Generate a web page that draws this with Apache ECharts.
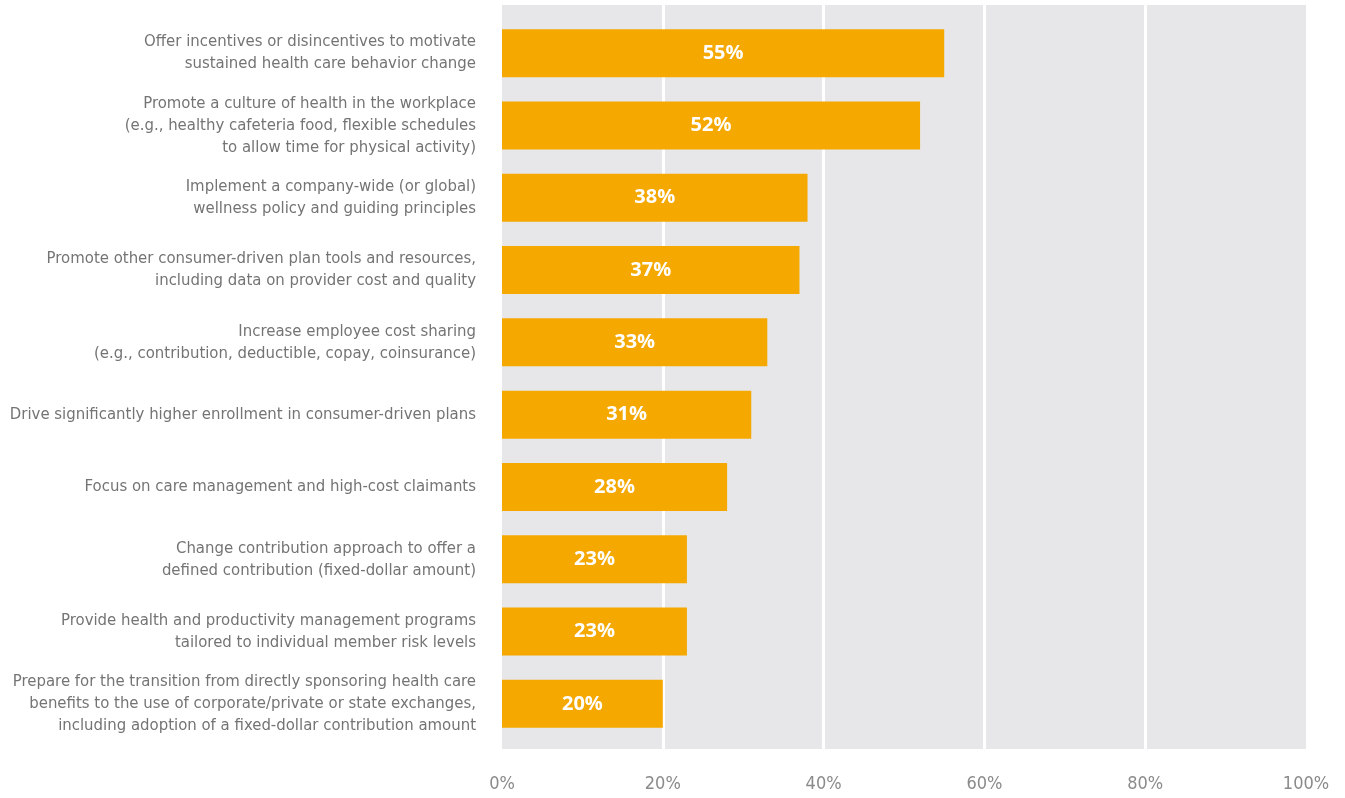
<!DOCTYPE html>
<html>
<head>
<meta charset="utf-8">
<script src="https://cdn.jsdelivr.net/npm/echarts@6/dist/echarts.min.js"></script>
<style>
  html, body { margin: 0; padding: 0; background: #fff; }
  #chart { width: 1345px; height: 798px; }
</style>
</head>
<body>
<div id="chart"></div>
<script>
// Health care strategy actions, share of respondents
const categories = [
  'Offer incentives or disincentives to motivate\nsustained health care behavior change',
  'Promote a culture of health in the workplace\n(e.g., healthy cafeteria food, flexible schedules\nto allow time for physical activity)',
  'Implement a company-wide (or global)\nwellness policy and guiding principles',
  'Promote other consumer-driven plan tools and resources,\nincluding data on provider cost and quality',
  'Increase employee cost sharing\n(e.g., contribution, deductible, copay, coinsurance)',
  'Drive significantly higher enrollment in consumer-driven plans',
  'Focus on care management and high-cost claimants',
  'Change contribution approach to offer a\ndefined contribution (fixed-dollar amount)',
  'Provide health and productivity management programs\ntailored to individual member risk levels',
  'Prepare for the transition from directly sponsoring health care\nbenefits to the use of corporate/private or state exchanges,\nincluding adoption of a fixed-dollar contribution amount'
];
const values = [55, 52, 38, 37, 33, 31, 28, 23, 23, 20];
const xTicks = [0, 20, 40, 60, 80, 100];

const labelFont = '"Liberation Sans Narrow", "DejaVu Sans Condensed", "Open Sans", sans-serif';

const chart = echarts.init(document.getElementById('chart'));
chart.setOption({
  animation: false,
  grid: [
    // shaded panel with vertical guide lines
    { left: 502, top: 5, width: 804, height: 744, show: true,
      backgroundColor: '#e7e7e9', borderWidth: 0, containLabel: false, outerBoundsMode: 'none' },
    // bars
    { left: 502, top: 17, width: 804, height: 723, containLabel: false, outerBoundsMode: 'none' }
  ],
  xAxis: [
    { gridIndex: 0, type: 'value', min: xTicks[0], max: xTicks[xTicks.length - 1], interval: 20,
      axisLine: { show: false }, axisTick: { show: false },
      splitLine: { show: true, showMinLine: false, showMaxLine: false,
        lineStyle: { color: '#ffffff', width: 3 } },
      axisLabel: { formatter: v => v + '%', color: '#8a8a8a', fontSize: 18,
        fontFamily: labelFont, margin: 26 } },
    { gridIndex: 1, type: 'value', min: 0, max: 100, show: false }
  ],
  yAxis: [
    { gridIndex: 0, type: 'category', data: ['x'], show: false },
    { gridIndex: 1, type: 'category', data: categories, inverse: true,
      axisLine: { show: false }, axisTick: { show: false },
      axisLabel: { color: '#747474', fontSize: 16.6, lineHeight: 22, margin: 26,
        align: 'right', fontFamily: labelFont } }
  ],
  series: [
    { type: 'bar', xAxisIndex: 1, yAxisIndex: 1, data: values, barWidth: 48,
      itemStyle: { color: '#f5a800' },
      label: { show: true, position: 'inside', formatter: '{c}%', color: '#ffffff',
        fontSize: 20, fontWeight: 'bold', fontFamily: '"Open Sans", sans-serif' } }
  ]
});
</script>
</body>
</html>
